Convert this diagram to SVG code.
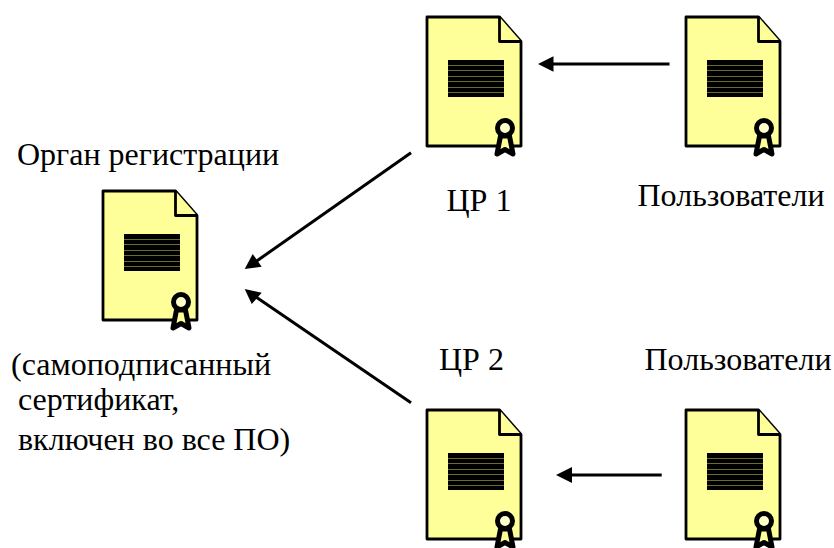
<svg xmlns="http://www.w3.org/2000/svg" width="834" height="548" viewBox="0 0 834 548">
<style>
text{font-family:"Liberation Serif","Times New Roman",serif;font-size:32px;fill:#000}
.page{fill:#ffff99;stroke:#000;stroke-width:2.800;stroke-linejoin:round}
.bar{fill:#000}
.gap{stroke:#6b6b2c;stroke-width:1;fill:none}
.seal{fill:#ffffcc;stroke:#000;stroke-width:5}
.ribbon{fill:#ffff99;stroke:#000;stroke-width:5;stroke-linejoin:round}
.conn{stroke:#000;stroke-width:3;fill:none}
.head{fill:#000}
</style>
<defs>
<g id="cert">
<path class="page" d="M0 0H72.500L94 24.500V129H0Z"/>
<path class="page" d="M72.500 0V24.500H94"/>
<rect class="bar" x="21" y="43" width="56" height="37"/>
<path class="gap" d="M21 48.500H77M21 53.500H77M21 59.500H77M21 64.500H77M21 70.500H77M21 75.500H77"/>
<path class="ribbon" d="M73.500 119L70 137L78 132.500L86 137L82.500 119Z"/>
<circle class="seal" cx="78" cy="111" r="7.500"/>
</g>
</defs>
<g id="connectors">
<path class="conn" d="M669.500 64H550"/><path class="head" d="M538 64L553.500 56.300V71.700Z"/>
<path class="conn" d="M661.700 475H570"/><path class="head" d="M556 475L572 467V483Z"/>
<path class="conn" d="M411 152.700L256 261.500"/><path class="head" d="M244.700 269L252.700 254L261.700 266.700Z"/>
<path class="conn" stroke-width="2.500" d="M411 402.700L256 297"/><path class="head" d="M244.700 289L261.700 292.700L251.700 304Z"/>
</g>
<g id="root"><use href="#cert" x="103" y="191"/><text x="17" y="165">Орган регистрации</text><text x="11" y="375">(самоподписанный</text><text x="18" y="410">сертификат,</text><text x="18" y="450">включен во все ПО)</text></g>
<g id="ca1"><use href="#cert" x="427" y="17"/><text x="446.500" y="211">ЦР 1</text></g>
<g id="users1"><use href="#cert" x="686" y="17"/><text x="637.500" y="206">Пользователи</text></g>
<g id="ca2"><use href="#cert" x="427" y="410"/><text x="439" y="370">ЦР 2</text></g>
<g id="users2"><use href="#cert" x="686" y="410"/><text x="644.500" y="370">Пользователи</text></g>
</svg>
